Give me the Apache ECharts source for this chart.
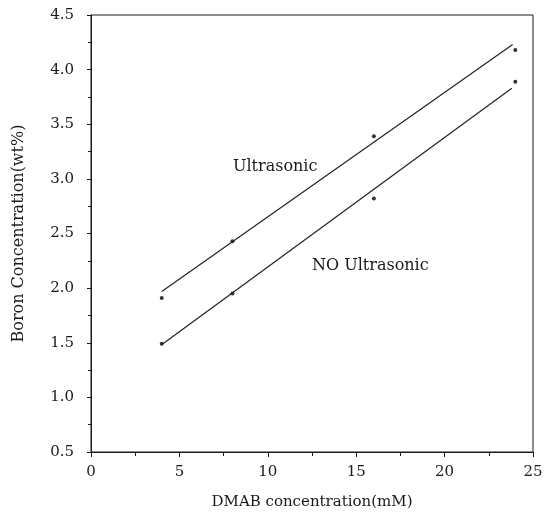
<!DOCTYPE html>
<html>
<head>
<meta charset="utf-8">
<script src="https://cdn.jsdelivr.net/npm/echarts@6/dist/echarts.min.js"></script>
<style>html,body{margin:0;padding:0;background:#fff;}#c{width:553px;height:515px;}</style>
</head>
<body>
<div id="c"></div>
<script>
// Data
const ultraPoints = [[4, 1.91], [8, 2.43], [16, 3.39], [24, 4.18]];
const noUltraPoints = [[4, 1.49], [8, 1.95], [16, 2.82], [24, 3.89]];
const ultraFit = [[4.0, 1.97], [23.85, 4.23]];
const noUltraFit = [[4.07, 1.49], [23.8, 3.83]];
const xTicks = [0, 5, 10, 15, 20, 25];
const yTicks = [0.5, 1.0, 1.5, 2.0, 2.5, 3.0, 3.5, 4.0, 4.5];
const labelUltra = 'Ultrasonic';
const labelNoUltra = 'NO Ultrasonic';
const xTitle = 'DMAB concentration(mM)';
const yTitle = 'Boron Concentration(wt%)';

const font = '"DejaVu Serif", "Liberation Serif", serif';
const ink = '#1a1a1a';

const chart = echarts.init(document.getElementById('c'), null, {renderer: 'canvas'});
chart.setOption({
  animation: false,
  backgroundColor: '#fff',
  grid: {left: 91, right: 20, top: 15, bottom: 60, show: true, borderColor: ink, borderWidth: 1},
  xAxis: {
    type: 'value', min: xTicks[0], max: xTicks[xTicks.length - 1], interval: 5,
    name: xTitle, nameLocation: 'middle', nameGap: 43,
    nameTextStyle: {fontFamily: font, fontSize: 15, color: ink},
    axisLine: {lineStyle: {color: ink, width: 1}},
    axisTick: {show: true, inside: false, length: 5, lineStyle: {color: ink}},
    minorTick: {show: true, splitNumber: 2, length: 4, lineStyle: {color: ink}},
    axisLabel: {fontFamily: font, fontSize: 15, color: ink, margin: 13},
    splitLine: {show: false}
  },
  yAxis: {
    type: 'value', min: yTicks[0], max: yTicks[yTicks.length - 1], interval: 0.5,
    name: yTitle, nameLocation: 'middle', nameGap: 64,
    nameTextStyle: {fontFamily: font, fontSize: 16, color: ink},
    axisLine: {show: true, lineStyle: {color: ink, width: 1}},
    axisTick: {show: true, inside: false, length: 4, lineStyle: {color: ink}},
    minorTick: {show: true, splitNumber: 2, length: 3, lineStyle: {color: ink}},
    axisLabel: {fontFamily: font, fontSize: 15, color: ink, margin: 17, formatter: v => v.toFixed(1)},
    splitLine: {show: false}
  },
  series: [
    {type: 'line', data: ultraFit, symbol: 'none', lineStyle: {color: '#222', width: 1.2}, silent: true},
    {type: 'line', data: noUltraFit, symbol: 'none', lineStyle: {color: '#222', width: 1.2}, silent: true},
    {type: 'scatter', data: ultraPoints, symbol: 'circle', symbolSize: 4, itemStyle: {color: '#000'}},
    {type: 'scatter', data: noUltraPoints, symbol: 'circle', symbolSize: 4, itemStyle: {color: '#000'}}
  ],
  graphic: [
    {type: 'text', left: 233, top: 159, style: {text: labelUltra, font: '16px ' + font, fill: ink}},
    {type: 'text', left: 312, top: 258, style: {text: labelNoUltra, font: '16px ' + font, fill: ink}}
  ]
});
</script>
</body>
</html>
